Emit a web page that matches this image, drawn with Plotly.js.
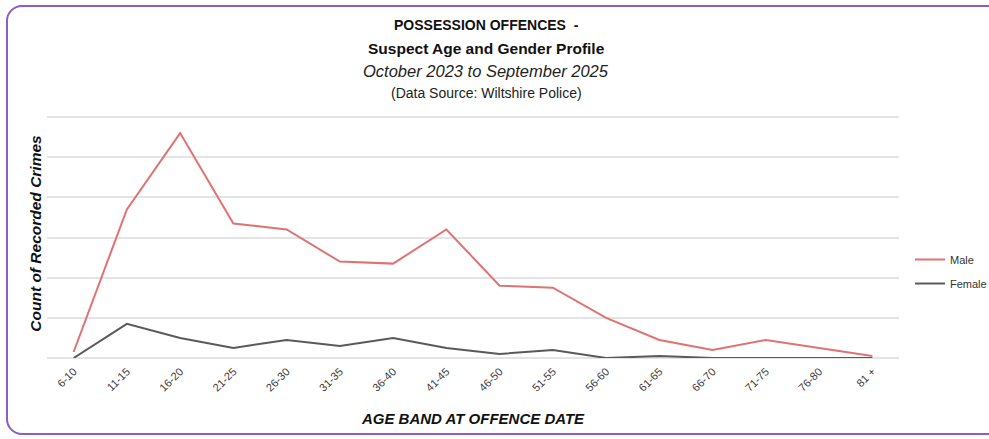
<!DOCTYPE html>
<html>
<head>
<meta charset="utf-8">
<script src="https://cdn.plot.ly/plotly-3.0.1.min.js"></script>
<style>
  html, body { margin: 0; padding: 0; background: #ffffff; }
  #wrap { position: relative; width: 989px; height: 439px; overflow: hidden; }
  #chart { position: absolute; left: 0; top: 0; width: 989px; height: 439px; }
  #frame {
    position: absolute; left: 6px; top: 5px; width: 1000px; height: 430px;
    border: 2px solid #8c5cc9; border-radius: 16px; box-sizing: border-box;
    pointer-events: none;
  }
</style>
</head>
<body>
<div id="wrap">
  <div id="chart"></div>
  <div id="frame"></div>
</div>
<script>
// Age bands on the x axis
const ageBands = ["6-10", "11-15", "16-20", "21-25", "26-30", "31-35", "36-40", "41-45",
                  "46-50", "51-55", "56-60", "61-65", "66-70", "71-75", "76-80", "81 +"];

// Count of recorded crimes per age band
const maleCounts   = [3, 74, 112, 67, 64, 48, 47, 64, 36, 35, 20, 9, 4, 9, 5, 1];
const femaleCounts = [0, 17, 10, 5, 9, 6, 10, 5, 2, 4, 0, 1, 0, 0, 0, 0];

const seriesNames = ["Male", "Female"];
const seriesColors = ["#e07272", "#5a5a5a"];

const titleLines = [
  "POSSESSION OFFENCES  -",
  "Suspect Age and Gender Profile",
  "October 2023 to September 2025",
  "(Data Source: Wiltshire Police)"
];

const FONT = "'Liberation Sans Narrow', 'Arial Narrow', 'Liberation Sans', sans-serif";

const W = 989, H = 439;
const M = { l: 47, r: 90, t: 109, b: 81 };
const PW = W - M.l - M.r, PH = H - M.t - M.b;

const traces = [maleCounts, femaleCounts].map((vals, i) => ({
  type: "scatter",
  mode: "lines",
  name: seriesNames[i],
  legendgroup: seriesNames[i],
  x: ageBands,
  y: vals,
  line: { color: seriesColors[i], width: 2 },
  hoverinfo: "x+y+name"
}));

const layout = {
  width: W,
  height: H,
  margin: { l: M.l, r: M.r, t: M.t, b: M.b, pad: 0 },
  paper_bgcolor: "#ffffff",
  plot_bgcolor: "#ffffff",
  showlegend: true,
  legend: {
    xref: "container", yref: "container",
    x: 910 / W, xanchor: "left",
    y: 1 - 245 / H, yanchor: "top",
    font: { family: FONT, size: 11, color: "#333333" },
    itemwidth: 30, tracegroupgap: 5,
    bgcolor: "rgba(0,0,0,0)"
  },
  xaxis: {
    type: "category",
    range: [-0.5, 15.5],
    tickangle: -45,
    tickfont: { family: FONT, size: 11, color: "#3a3a3a" },
    ticklabelstandoff: 4,
    showgrid: false,
    showline: false,
    zeroline: false,
    ticks: "",
    automargin: false,
    title: {
      text: "<b><i>AGE BAND AT OFFENCE DATE</i></b>",
      font: { family: FONT, size: 15, color: "#111111" },
      standoff: 20
    }
  },
  yaxis: {
    range: [0, 124],
    tickvals: [0, 20, 40, 60, 80, 100, 120],
    showticklabels: false,
    showgrid: true,
    gridcolor: "#e4e4e4",
    gridwidth: 2,
    zeroline: true,
    zerolinecolor: "#e4e4e4",
    zerolinewidth: 2,
    showline: false,
    ticks: "",
    automargin: false,
    title: {
      text: "<b><i>Count of Recorded Crimes</i></b>",
      font: { family: FONT, size: 15.5, color: "#111111" },
      standoff: 0
    }
  },
  annotations: [
    { text: "<b>" + titleLines[0] + "</b>", y: 25, size: 14, color: "#111111" },
    { text: "<b>" + titleLines[1] + "</b>", y: 48, size: 15.5, color: "#111111" },
    { text: "<i>" + titleLines[2] + "</i>", y: 71, size: 16.5, color: "#222222" },
    { text: titleLines[3], y: 93, size: 14, color: "#222222" }
  ].map(a => ({
    text: a.text,
    xref: "paper", yref: "paper",
    x: (486 - M.l) / PW,
    y: 1 + (M.t - a.y) / PH,
    xanchor: "center", yanchor: "middle",
    showarrow: false,
    font: { family: FONT, size: a.size, color: a.color }
  }))
};

Plotly.newPlot("chart", traces, layout, { displayModeBar: false });
</script>
</body>
</html>
